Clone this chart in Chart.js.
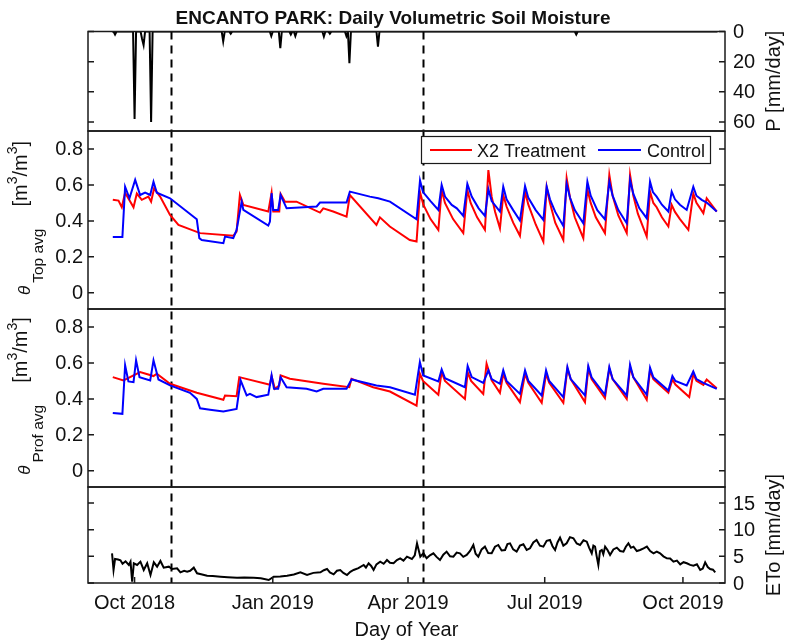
<!DOCTYPE html>
<html>
<head>
<meta charset="utf-8">
<script src="https://cdn.jsdelivr.net/npm/chart.js@4.4.1/dist/chart.umd.min.js"></script>
<style>
  html, body { margin: 0; padding: 0; background: #ffffff; }
  #wrap { position: relative; width: 786px; height: 644px; }
  canvas { display: block; }
</style>
</head>
<body>
<div id="wrap"><canvas id="chart" width="786" height="644"></canvas></div>
<script>
// ---- Data (x = day count from 1 Jan 2018, 0-based) ----
const xTickDays   = [273, 365, 455, 546, 638];
const xTickLabels = ['Oct 2018', 'Jan 2019', 'Apr 2019', 'Jul 2019', 'Oct 2019'];
const markerDays  = [297, 465];

const pTicks     = [0, 20, 40, 60];
const thetaTicks = [0, 0.2, 0.4, 0.6, 0.8];
const thetaTickLabels = ['0', '0.2', '0.4', '0.6', '0.8'];
const etoTicks   = [0, 5, 10, 15];

// Daily precipitation [mm/day]
const precipDays = [258, 259, 260, 261, 272, 273, 274, 277, 278, 279, 280, 283, 284, 285,
  331, 332, 333, 336, 337, 338, 363, 364, 365, 369, 370, 371, 376, 377, 378, 379, 380, 381,
  398, 399, 400, 402, 403, 404, 413, 414, 415, 416, 417, 434, 435, 436, 566, 567, 568, 661];
const precipMm = [0, 0, 2, 0, 0, 58, 0, 0, 5, 9, 0, 0, 60, 0,
  0, 6.5, 0, 0, 1.5, 0, 0, 3, 0, 0, 11, 0, 0, 2, 0, 0, 3, 0,
  0, 3.3, 0, 0, 1.5, 0, 0, 3, 0, 21, 0, 0, 10, 0, 0, 2, 0, 0];

// Top-layer average soil moisture [m3/m3]
const topTrtDays = [258.5, 262.3, 264.5, 266.7, 272.3, 274.5, 277.8, 282.2, 284, 286, 290, 296.6, 302.2,
  316.6, 338.7, 340.9, 343.1, 345.4, 362, 364.2, 365.3, 369.3, 370.2, 373.1, 380.8, 396.4, 398.6,
  405.2, 414.1, 416.3, 434, 436.3, 442.9, 456.2, 460.7,
  463, 465.2, 470, 475.2, 477.4, 479.6, 485, 491.8, 494.5, 496.7, 501, 506.2, 508.5, 510.7, 513,
  516.2, 518.4, 520.6, 525, 529.5, 532.9, 535.1, 540, 545.1, 547.3, 549.5, 553, 558.4, 560.6, 562.8,
  566, 571.7, 574.4, 576.6, 580, 586.1, 589, 591.2, 595, 600.6, 602.8, 605, 608, 613.9, 616.1, 618.3,
  620.5, 624, 628.3, 630.5, 632.7, 636, 641.6, 644.9, 647, 651.6, 653.8, 657.1, 660.5];
const topTrtVals = [0.517, 0.513, 0.476, 0.557, 0.476, 0.552, 0.517, 0.535, 0.507, 0.581, 0.535, 0.433, 0.378,
  0.332, 0.317, 0.341, 0.544, 0.489, 0.452, 0.557, 0.452, 0.452, 0.55, 0.507, 0.507, 0.446, 0.47,
  0.452, 0.424, 0.544, 0.378, 0.42, 0.369, 0.294, 0.285,
  0.56, 0.49, 0.41, 0.35, 0.572, 0.5, 0.41, 0.332, 0.572, 0.5, 0.42, 0.35, 0.683, 0.535, 0.45,
  0.359, 0.544, 0.48, 0.39, 0.317, 0.563, 0.49, 0.38, 0.285, 0.587, 0.5, 0.39, 0.294, 0.637, 0.53,
  0.42, 0.304, 0.576, 0.5, 0.42, 0.332, 0.656, 0.54, 0.43, 0.332, 0.656, 0.54, 0.44, 0.313, 0.563, 0.5,
  0.476, 0.42, 0.369, 0.489, 0.45, 0.41, 0.35, 0.552, 0.5, 0.443, 0.526, 0.489, 0.452];

const topCtlDays = [258.5, 264.9, 266.7, 269.6, 273.4, 276.7, 280, 283.4, 285.6, 287.8, 296.6, 314.4,
  316.1, 317.7, 332.1, 333.2, 338.7, 340.9, 344.3, 345.4, 362, 363.1, 364.2, 365.3, 368.6, 370.2,
  374.2, 394.2, 396.4, 414.1, 416.3, 429.6, 435.2, 443, 460.7,
  463, 465, 470, 475.2, 477.4, 479.6, 484.1, 487.5, 491.8, 494.5, 497.4, 502, 506.2, 508.5, 510.7,
  516.2, 518.4, 520.6, 525, 529.5, 532.9, 535, 540, 545.1, 547.3, 549.5, 553, 558.4, 560.6, 562.8,
  566, 571.7, 574.4, 576.6, 581, 586.1, 589, 591.2, 595, 600.6, 602.8, 605, 609, 613.9, 616.1, 618,
  620.5, 624, 628.3, 630.5, 632.7, 636, 640.5, 644.9, 647, 650.5, 653.8, 660.5];
const topCtlVals = [0.31, 0.31, 0.59, 0.526, 0.628, 0.544, 0.557, 0.544, 0.618, 0.557, 0.526, 0.409,
  0.304, 0.294, 0.276, 0.313, 0.304, 0.35, 0.507, 0.461, 0.374, 0.396, 0.554, 0.461, 0.461, 0.544,
  0.47, 0.48, 0.502, 0.502, 0.563, 0.535, 0.526, 0.507, 0.409,
  0.625, 0.56, 0.51, 0.461, 0.6, 0.535, 0.489, 0.47, 0.428, 0.606, 0.535, 0.47, 0.428, 0.576, 0.51,
  0.452, 0.59, 0.52, 0.46, 0.402, 0.594, 0.53, 0.46, 0.406, 0.59, 0.52, 0.45, 0.372, 0.606, 0.53,
  0.46, 0.387, 0.618, 0.54, 0.46, 0.409, 0.618, 0.54, 0.46, 0.387, 0.628, 0.55, 0.47, 0.415, 0.618, 0.56,
  0.535, 0.49, 0.452, 0.563, 0.52, 0.49, 0.461, 0.59, 0.54, 0.517, 0.502, 0.452];

// Profile average soil moisture [m3/m3]
const profTrtDays = [258.5, 265.6, 276.7, 285.6, 287.8, 296.6, 314.4, 332.1, 333.2, 340.9, 342.7, 363.1,
  364.2, 366.4, 369.3, 370.2, 376.4, 398.6, 415.9, 417.4, 431.8, 443, 460.7,
  462.9, 465, 475.2, 477.4, 479.6, 492.9, 494.7, 497, 505.1, 507.3, 510.7, 516.2, 518.4, 520.6, 529.5,
  532.9, 535.1, 544, 546.9, 549, 558.4, 561.1, 563.3, 572.8, 575, 577.2, 586.1, 589, 591.2, 600.6,
  602.8, 605, 613.9, 616.1, 618.3, 628.3, 631, 633, 642.2, 644.9, 647, 651.6, 653.8, 660.5];
const profTrtVals = [0.521, 0.503, 0.549, 0.527, 0.54, 0.484, 0.434, 0.395, 0.419, 0.415, 0.521, 0.479,
  0.527, 0.456, 0.475, 0.531, 0.512, 0.484, 0.465, 0.512, 0.465, 0.441, 0.363,
  0.54, 0.5, 0.423, 0.549, 0.5, 0.4, 0.549, 0.5, 0.428, 0.596, 0.503, 0.434, 0.54, 0.49, 0.382,
  0.54, 0.49, 0.378, 0.54, 0.49, 0.378, 0.568, 0.51, 0.382, 0.568, 0.51, 0.404, 0.568, 0.51, 0.4,
  0.577, 0.52, 0.396, 0.559, 0.51, 0.434, 0.508, 0.48, 0.41, 0.54, 0.5, 0.478, 0.508, 0.459];

const profCtlDays = [258.5, 264.9, 266.7, 268.9, 272.3, 274, 276.3, 283.4, 285.6, 288.9, 296.6, 309.9,
  314.4, 316.6, 323.2, 332.1, 340.9, 343.6, 347.6, 349.8, 354.2, 362, 364.2, 365.8, 368.6, 370.2,
  374.2, 387.5, 394.2, 398.6, 414.1, 417.4, 434, 443, 459.6,
  462.9, 465.1, 475.2, 477.4, 479.6, 492.9, 494.7, 497.4, 505.1, 508.5, 510.7, 516.2, 518.4, 520.6,
  529.5, 532.9, 535.1, 544, 546.9, 549, 558.4, 561.1, 563.3, 572.8, 575, 577.2, 586.1, 589, 591.2,
  600.6, 602.8, 605, 613.9, 616.1, 618.3, 628.3, 631, 633, 640.5, 644.9, 647, 651.6, 660.5];
const profCtlVals = [0.322, 0.317, 0.587, 0.497, 0.493, 0.615, 0.521, 0.503, 0.615, 0.508, 0.475, 0.434,
  0.4, 0.348, 0.34, 0.33, 0.344, 0.503, 0.419, 0.428, 0.41, 0.423, 0.531, 0.456, 0.456, 0.521,
  0.465, 0.456, 0.441, 0.456, 0.456, 0.508, 0.475, 0.465, 0.423,
  0.605, 0.53, 0.497, 0.564, 0.515, 0.465, 0.583, 0.521, 0.489, 0.559, 0.51, 0.484, 0.559, 0.5,
  0.428, 0.559, 0.5, 0.419, 0.559, 0.5, 0.41, 0.577, 0.51, 0.419, 0.583, 0.52, 0.423, 0.577, 0.51,
  0.419, 0.59, 0.52, 0.423, 0.574, 0.52, 0.447, 0.527, 0.5, 0.475, 0.552, 0.51, 0.489, 0.456];

// Reference evapotranspiration [mm/day]
const etoDays = [258, 259, 260, 262, 263.6, 265, 267, 269.2, 270.3, 271.4, 272.5, 274.7, 276.9, 279.1,
  281.4, 283.6, 285.8, 288, 290.2, 292.4, 295.8, 298, 301.3, 303.5, 306, 308, 310, 312.4, 314.6, 318,
  321.3, 325, 330.2, 335, 341.2, 346, 352.3, 357, 362.3, 365.6, 370, 374.5, 379, 383.4, 387.8, 392,
  396.7, 399, 401.1, 403, 405.5, 407.7, 409.9, 412, 414.4, 416.6, 418.8, 422, 425.5, 427, 428.8, 430.5,
  432.1, 434, 436.5, 438.8, 441, 443, 445.4, 447.6, 449.8, 452, 454.3, 457.6, 459.5, 461,
  463.2, 465.3, 467.4, 469.6, 471.9, 474, 476.3, 478.5, 480.7, 483, 485.2, 487.4, 489.6, 491.8, 494.1,
  496.3, 498.5, 500, 501.8, 504, 506.2, 508.4, 510.7, 512.9, 515.1, 517.3, 519.6, 521.2, 522.9, 525,
  527.3, 529.5, 531.8, 534, 536.2, 538.4, 540.6, 542.8, 545.1, 547.3, 549.5, 551.2, 552.9, 554.5,
  556.2, 558.4, 560.6, 562.8, 565.1, 567.3, 569.5, 571.8, 574, 575.6, 577.3, 578.4, 579.5, 580.6,
  581.7, 582.8, 584, 585, 586.2, 587.8, 589.5, 591.7, 594, 596.2, 598.4, 600, 601.7, 603.4, 605.1,
  607.3, 609.5, 611.8, 614, 616.2, 618.4, 620.6, 622.8, 625, 627.3, 629.5, 631.7, 634, 636.2, 638.4,
  640.6, 642.8, 645, 647.3, 649.5, 651.2, 652.8, 654.5, 656.1, 658, 659.5];
const etoVals = [5.57, 2.44, 4.5, 4.4, 4.25, 3.6, 4.06, 3.38, 4.0, 0.25, 3.7, 3.38, 4.0, 2.44,
  3.7, 1.5, 3.88, 3.06, 4.13, 2.88, 3.06, 2.63, 2.75, 2.0, 2.3, 2.13, 2.3, 2.88, 1.81, 1.6,
  1.38, 1.3, 1.19, 1.1, 1.0, 1.05, 1.0, 0.9, 0.56, 1.19, 1.2, 1.38, 1.6, 2.0, 1.5, 1.9,
  2.0, 2.4, 2.63, 2.0, 1.63, 2.3, 2.44, 1.9, 1.5, 2.1, 2.44, 2.8, 3.38, 2.9, 3.7, 3.2,
  2.44, 3.5, 4.0, 3.6, 4.31, 3.8, 3.7, 4.3, 4.63, 4.2, 4.94, 4.5, 5.2, 7.44,
  4.94, 5.6, 4.63, 5.2, 5.57, 4.9, 4.31, 5.3, 5.88, 5.0, 4.94, 5.7, 5.57, 4.9, 5.25,
  6.0, 7.13, 5.5, 4.94, 6.3, 6.82, 5.6, 5.57, 6.8, 7.13, 6.1, 6.19, 7.3, 7.44, 6.3,
  5.88, 7.0, 7.25, 6.2, 6.5, 7.6, 8.07, 7.0, 6.82, 7.9, 8.07, 6.9, 6.19, 7.6,
  8.5, 7.0, 7.44, 8.6, 8.38, 7.4, 7.13, 8.0, 7.75, 6.6, 5.57, 7.0, 6.82, 5.0,
  3.38, 6.0, 6.19, 5.4, 6.82, 6.2, 5.25, 6.3, 6.63, 6.0, 5.88, 6.8, 7.44, 6.6, 6.82,
  6.0, 6.19, 6.5, 6.82, 6.0, 5.57, 5.9, 5.57, 5.0, 4.63, 4.6, 4.0, 4.2, 3.5, 3.9,
  3.7, 3.4, 3.25, 3.5, 2.44, 2.7, 3.88, 3.0, 2.63, 2.5, 2.0];

// ---- Layout of the stacked panels ----
const X_MIN = 242, X_MAX = 666;
const FONT = '"Liberation Sans", Arial, Helvetica, sans-serif';
const INK = '#111111';
const panelDefs = [
  { id: 'yP', weight: 99.5, ticks: pTicks, labels: pTicks.map(String), side: 'right' },
  { id: 'yT', weight: 178, ticks: thetaTicks, labels: thetaTickLabels, side: 'left' },
  { id: 'yF', weight: 178, ticks: thetaTicks, labels: thetaTickLabels, side: 'left' },
  { id: 'yE', weight: 96, ticks: etoTicks, labels: etoTicks.map(String), side: 'right' }
];

const pts = (xs, ys) => xs.map((x, i) => ({ x: x, y: ys[i] }));
const line = (label, xs, ys, axis, color, order) => ({
  label: label, data: pts(xs, ys), yAxisID: axis, borderColor: color, backgroundColor: color,
  borderWidth: 2, pointRadius: 0, tension: 0, fill: false, order: order,
  borderJoinStyle: 'miter'
});

// Draws a run of text pieces (sub/superscripts via dy) centred on cx along the baseline.
function richText(ctx, parts, cx, baseY) {
  let total = 0;
  parts.forEach(p => {
    ctx.font = p.font;
    p.w = (p.t ? ctx.measureText(p.t).width : 0) + (p.gap || 0);
    total += p.w;
  });
  let x = cx - total / 2;
  parts.forEach(p => {
    ctx.font = p.font;
    if (p.t) ctx.fillText(p.t, x, baseY + (p.dy || 0));
    x += p.w;
  });
}

function thetaParts(sub) {
  return [
    { t: 'θ', font: 'italic 17px ' + FONT, dy: 3, gap: 3 },
    { t: sub, font: '15.5px ' + FONT, dy: 16 },
    { t: '', font: '20px ' + FONT, gap: 22 },
    { t: '[m', font: '20px ' + FONT },
    { t: '3', font: '14px ' + FONT, dy: -10 },
    { t: '/m', font: '20px ' + FONT },
    { t: '3', font: '14px ' + FONT, dy: -10 },
    { t: ']', font: '20px ' + FONT }
  ];
}

const panelsPlugin = {
  id: 'panels',
  afterLayout(chart) {
    const a = chart.chartArea;
    const total = panelDefs.reduce((s, p) => s + p.weight, 0);
    let top = a.top;
    panelDefs.forEach(p => {
      const s = chart.scales[p.id];
      const h = (a.bottom - a.top) * p.weight / total;
      s.left = a.left; s.right = a.right; s.width = a.right - a.left;
      s.top = top; s.bottom = top + h; s.height = h;
      s.configure();
      top += h;
    });
    const xs = chart.scales.x;
    xs.left = a.left; xs.right = a.right; xs.width = a.right - a.left;
    xs.configure();
  },
  beforeDatasetsDraw(chart) {
    const ctx = chart.ctx, a = chart.chartArea, xs = chart.scales.x;
    ctx.save();
    ctx.strokeStyle = '#000';
    ctx.lineWidth = 2;
    ctx.setLineDash([8, 6]);
    markerDays.forEach(d => {
      const x = Math.round(xs.getPixelForValue(d)) + 0.5;
      ctx.beginPath(); ctx.moveTo(x, a.top); ctx.lineTo(x, a.bottom); ctx.stroke();
    });
    ctx.restore();
  },
  afterDatasetsDraw(chart) {
    const ctx = chart.ctx, a = chart.chartArea, xs = chart.scales.x;
    ctx.save();
    ctx.strokeStyle = '#1a1a1a';
    ctx.lineWidth = 1.5;
    const tl = 6;
    panelDefs.forEach(p => {
      const s = chart.scales[p.id];
      ctx.strokeRect(a.left, s.top, a.right - a.left, s.bottom - s.top);
      p.ticks.forEach(v => {
        const y = s.getPixelForValue(v);
        ctx.beginPath();
        ctx.moveTo(a.left, y); ctx.lineTo(a.left + tl, y);
        ctx.moveTo(a.right, y); ctx.lineTo(a.right - tl, y);
        ctx.stroke();
      });
    });
    xTickDays.forEach(d => {
      const x = xs.getPixelForValue(d);
      ctx.beginPath(); ctx.moveTo(x, a.bottom); ctx.lineTo(x, a.bottom - tl); ctx.stroke();
    });
    ctx.restore();
  },
  afterDraw(chart) {
    const ctx = chart.ctx, a = chart.chartArea, xs = chart.scales.x;
    ctx.save();
    ctx.fillStyle = INK;

    // title
    ctx.font = 'bold 19px ' + FONT;
    ctx.textAlign = 'center'; ctx.textBaseline = 'alphabetic';
    ctx.fillText('ENCANTO PARK: Daily Volumetric Soil Moisture', chart.width / 2, 24);

    // y tick labels
    ctx.font = '20px ' + FONT;
    ctx.textBaseline = 'middle';
    panelDefs.forEach(p => {
      const s = chart.scales[p.id];
      p.ticks.forEach((v, i) => {
        const y = s.getPixelForValue(v);
        if (p.side === 'left') { ctx.textAlign = 'right'; ctx.fillText(p.labels[i], a.left - 5, y + 1); }
        else { ctx.textAlign = 'left'; ctx.fillText(p.labels[i], a.right + 8, y + 1); }
      });
    });

    // x tick labels and title
    ctx.textAlign = 'center'; ctx.textBaseline = 'alphabetic';
    xTickDays.forEach((d, i) => ctx.fillText(xTickLabels[i], xs.getPixelForValue(d), a.bottom + 26));
    ctx.fillText('Day of Year', (a.left + a.right) / 2, a.bottom + 53);

    // right axis titles
    const rot = (x, y, fn) => { ctx.save(); ctx.translate(x, y); ctx.rotate(-Math.PI / 2); fn(); ctx.restore(); };
    const sP = chart.scales.yP, sE = chart.scales.yE, sT = chart.scales.yT, sF = chart.scales.yF;
    rot(780, (sP.top + sP.bottom) / 2, () => { ctx.textAlign = 'center'; ctx.fillText('P [mm/day]', 0, 0); });
    rot(780, (sE.top + sE.bottom) / 2, () => { ctx.textAlign = 'center'; ctx.fillText('ETo [mm/day]', 0, 0); });

    // left axis titles
    ctx.textAlign = 'left';
    rot(27, (sT.top + sT.bottom) / 2 - 2, () => richText(ctx, thetaParts('Top avg'), 0, 0));
    rot(27, (sF.top + sF.bottom) / 2 - 2, () => richText(ctx, thetaParts('Prof avg'), 0, 0));

    // legend
    const lx = 421.5, ly = 136.5, lw = 289, lh = 27;
    ctx.fillStyle = '#ffffff';
    ctx.fillRect(lx, ly, lw, lh);
    ctx.strokeStyle = '#1a1a1a'; ctx.lineWidth = 1.2;
    ctx.strokeRect(lx, ly, lw, lh);
    const items = [
      { label: chart.data.datasets[1].label, color: chart.data.datasets[1].borderColor, x0: 430, x1: 472, tx: 477 },
      { label: chart.data.datasets[0].label, color: chart.data.datasets[0].borderColor, x0: 598, x1: 641, tx: 647 }
    ];
    items.forEach(it => {
      ctx.strokeStyle = it.color; ctx.lineWidth = 2;
      ctx.beginPath(); ctx.moveTo(it.x0, 150); ctx.lineTo(it.x1, 150); ctx.stroke();
      ctx.fillStyle = INK; ctx.font = '18px ' + FONT; ctx.textBaseline = 'alphabetic';
      ctx.fillText(it.label, it.tx, 156.5);
    });
    ctx.restore();
  }
};

new Chart(document.getElementById('chart'), {
  type: 'line',
  data: {
    datasets: [
      line('Control', topCtlDays, topCtlVals, 'yT', '#0000ff', 0),
      line('X2 Treatment', topTrtDays, topTrtVals, 'yT', '#ff0000', 1),
      line('Control', profCtlDays, profCtlVals, 'yF', '#0000ff', 2),
      line('X2 Treatment', profTrtDays, profTrtVals, 'yF', '#ff0000', 3),
      line('P', precipDays, precipMm, 'yP', '#000000', 4),
      line('ETo', etoDays, etoVals, 'yE', '#000000', 5)
    ]
  },
  options: {
    responsive: false,
    animation: false,
    events: [],
    layout: { padding: { left: 88, right: 61, top: 31.5, bottom: 61 } },
    plugins: { legend: { display: false }, tooltip: { enabled: false }, title: { display: false } },
    scales: {
      x:  { type: 'linear', min: X_MIN, max: X_MAX, display: false },
      yP: { type: 'linear', min: 0, max: 66, reverse: true, display: false },
      yT: { type: 'linear', min: -0.09, max: 0.9, display: false },
      yF: { type: 'linear', min: -0.09, max: 0.9, display: false },
      yE: { type: 'linear', min: 0, max: 18, display: false }
    }
  },
  plugins: [panelsPlugin]
});
</script>
</body>
</html>
